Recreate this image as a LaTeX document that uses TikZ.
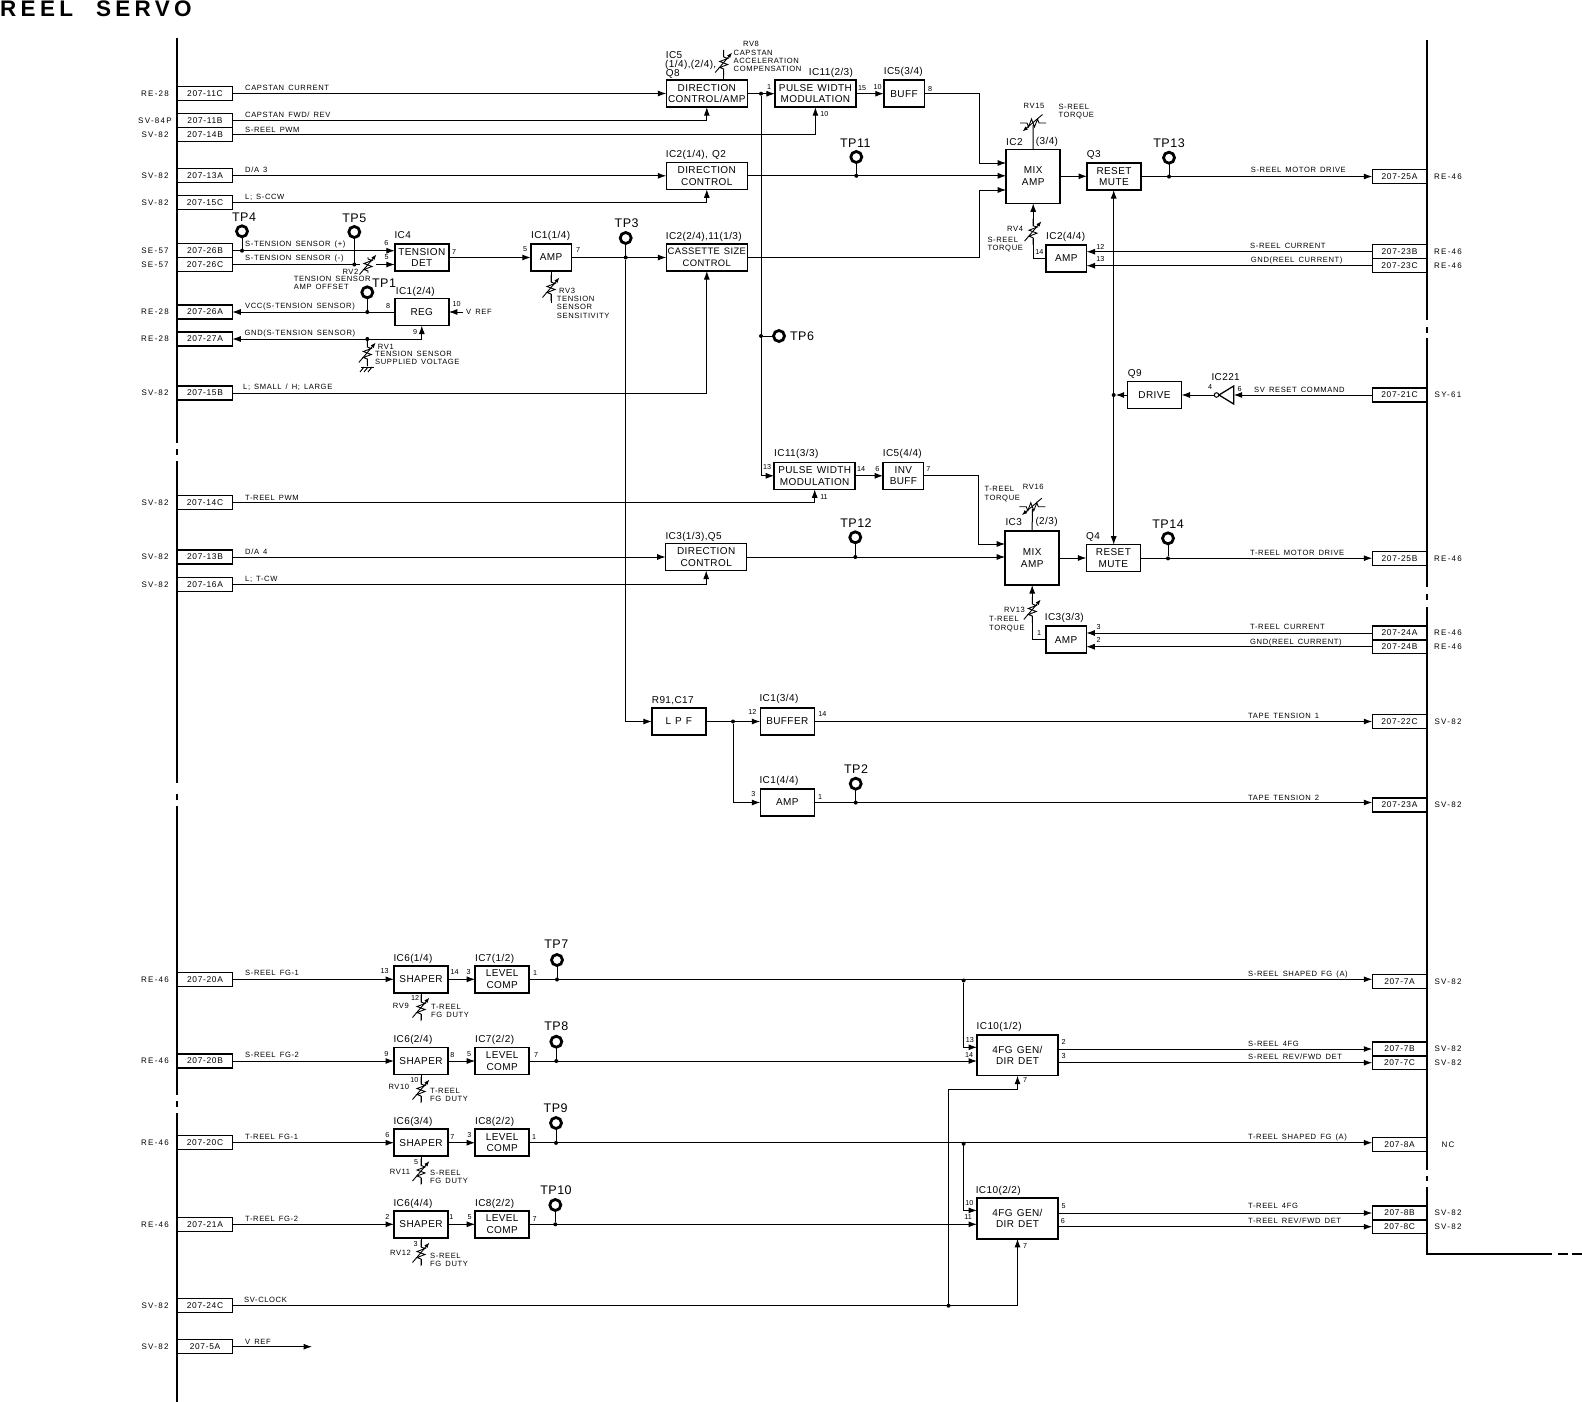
\documentclass[tikz,border=0pt]{standalone}
\usepackage{fontspec}
\usepackage{tikz}
\usetikzlibrary{arrows.meta,calc}
\setmainfont{Liberation Sans}
\newfontfamily\sigface{Liberation Sans}[LetterSpace=8,WordSpace=1.5]
\newfontfamily\srcface{Liberation Sans}[LetterSpace=16]
\newfontfamily\blkface{Liberation Sans}[LetterSpace=4,WordSpace=1.3]
\newfontfamily\ttlface{Liberation Sans}[LetterSpace=19,WordSpace=2.2]
\newcommand{\sigsz}{\sigface\fontsize{7.6}{8.4}\selectfont}
\newcommand{\blksz}{\blkface\fontsize{10}{11.6}\selectfont}
\newcommand{\icsz}{\blkface\fontsize{10}{11}\selectfont}
\tikzset{
  wire/.style={line width=1pt},
  sig/.style={line width=1pt,-{Latex[length=8.5pt,width=6pt]}},
  sigboth/.style={line width=1pt,{Latex[length=8.5pt,width=6pt]}-{Latex[length=8.5pt,width=6pt]}},
  bus/.style={line width=2.2pt},
  blk/.style={draw,line width=1.5pt,inner sep=0pt,outer sep=0pt,align=center,font=\blksz,minimum width=54pt,minimum height=27pt},
  blkw/.style={blk,minimum width=81pt},
  blks/.style={blk,minimum width=40.5pt},
  blkm/.style={blk,minimum height=54pt},
  conn/.style={draw,line width=1.3pt,inner sep=0pt,outer sep=0pt,font=\sigface\fontsize{8.4}{9}\selectfont,minimum width=54.5pt,minimum height=14pt},
  srcl/.style={inner sep=0pt,font=\srcface\fontsize{8}{9}\selectfont},
  sigl/.style={inner sep=0pt,anchor=west,font=\sigsz},
  rvl/.style={inner sep=0pt,anchor=west,align=left,font=\sigsz},
  icl/.style={inner sep=0pt,anchor=west,font=\icsz},
  pinl/.style={inner sep=0pt,font=\fontsize{7.2}{8}\selectfont},
  tp/.style={circle,draw,fill=white,line width=2.8pt,minimum size=11pt,inner sep=0pt,outer sep=0pt},
  tpl/.style={inner sep=0pt,font=\blkface\fontsize{12.5}{13}\selectfont},
  jdot/.style={circle,fill=black,minimum size=4pt,inner sep=0pt,outer sep=0pt},
  pics/rheo/.default=13,
  pics/rheo/.style={code={
    \fill[white] (-2.5,-6) rectangle (2.5,6);
    \draw[line width=.9pt] (0,-#1)--(0,-6)--(4,-4.5)--(-4,-1.5)--(4,1.5)--(-4,4.5)--(0,6)--(0,#1);
    \draw[line width=.9pt,-{Latex[length=5.5pt,width=4pt]}] (-8.5,9.5)--(8.5,-10.5);
  }}
}
\newcommand{\lconn}[4]{%
  \node[conn] (#1) at (205,#2) {#3};
  \node[srcl] (#1s) at (155,#2) {#4};}
\newcommand{\rconn}[4]{%
  \node[conn] (#1) at (1399.5,#2) {#3};
  \node[srcl] (#1s) at (1448,#2) {#4};}

\begin{document}
\begin{tikzpicture}[x=1pt,y=-1pt]
\useasboundingbox (0,0) rectangle (1582,1402);
\node[inner sep=0pt,anchor=west,font=\ttlface\bfseries\fontsize{22.5}{22.5}\selectfont] (title) at (0,8.5) {REEL SERVO};
% the two vertical connector rails
\foreach \a/\b in {38/443,449/455,461/783,794/800,806/1095,1101/1107,1113/1402}
  \draw[bus] (177,\a) -- (177,\b);
\foreach \a/\b in {40/320,327/333,338/587,594/600,607/1170,1176/1181,1187/1254}
  \draw[bus] (1427,\a) -- (1427,\b);
\draw[bus] (1426,1254) -- (1552,1254);
\draw[bus] (1558,1254) -- (1568,1254);
\draw[bus] (1572,1254) -- (1582,1254);

% left connectors
\lconn{lc11c}{93.5}{207-11C}{RE-28}
\lconn{lc11b}{120.7}{207-11B}{SV-84P}
\lconn{lc14b}{134.7}{207-14B}{SV-82}
\lconn{lc13a}{175.8}{207-13A}{SV-82}
\lconn{lc15c}{202.7}{207-15C}{SV-82}
\lconn{lc26b}{250.7}{207-26B}{SE-57}
\lconn{lc26c}{264.5}{207-26C}{SE-57}
\lconn{lc26a}{312}{207-26A}{RE-28}
\lconn{lc27a}{339}{207-27A}{RE-28}
\lconn{lc15b}{393}{207-15B}{SV-82}
\lconn{lc14c}{502.5}{207-14C}{SV-82}
\lconn{lc13b}{557}{207-13B}{SV-82}
\lconn{lc16a}{584.3}{207-16A}{SV-82}
\lconn{lc20a}{979.3}{207-20A}{RE-46}
\lconn{lc20b}{1061}{207-20B}{RE-46}
\lconn{lc20c}{1142.7}{207-20C}{RE-46}
\lconn{lc21a}{1224.3}{207-21A}{RE-46}
\lconn{lc24c}{1305.7}{207-24C}{SV-82}
\lconn{lc5a}{1346.7}{207-5A}{SV-82}

% right connectors
\rconn{rc25a}{176.7}{207-25A}{RE-46}
\rconn{rc23b}{251.7}{207-23B}{RE-46}
\rconn{rc23c}{265.7}{207-23C}{RE-46}
\rconn{rc21c}{395}{207-21C}{SY-61}
\rconn{rc25b}{558.5}{207-25B}{RE-46}
\rconn{rc24a}{633}{207-24A}{RE-46}
\rconn{rc24b}{646.7}{207-24B}{RE-46}
\rconn{rc22c}{721.5}{207-22C}{SV-82}
\rconn{rc23a}{805}{207-23A}{SV-82}
\rconn{rc7a}{981.7}{207-7A}{SV-82}
\rconn{rc7b}{1049}{207-7B}{SV-82}
\rconn{rc7c}{1062.7}{207-7C}{SV-82}
\rconn{rc8a}{1144.7}{207-8A}{NC}
\rconn{rc8b}{1213}{207-8B}{SV-82}
\rconn{rc8c}{1226.7}{207-8C}{SV-82}

% blocks, upper half
\node[blkw] (dirca) at (706.8,93.7) {DIRECTION\\CONTROL/AMP};
\node[blkw] (pwma) at (815.4,93.7) {PULSE WIDTH\\MODULATION};
\node[blks] (buffa) at (904,93.7) {BUFF};
\node[blkw] (dircb) at (706.8,175.8) {DIRECTION\\CONTROL};
\node[blkw,font=\blkface\fontsize{9.4}{11.6}\selectfont] (cass) at (706.8,257.5) {CASSETTE SIZE\\CONTROL};
\node[blkm] (mixa) at (1033.2,176.3) {MIX\\AMP};
\node[blk] (rsta) at (1114,176.5) {RESET\\MUTE};
\node[blks] (ampc) at (1066.3,258.3) {AMP};
\node[blk] (drive) at (1154.5,395) {DRIVE};
\node[blk] (tdet) at (421.8,257.5) {TENSION\\DET};
\node[blks] (ampa) at (551,257.5) {AMP};
\node[blk] (reg) at (421.8,312) {REG};
\node[blkw] (pwmb) at (814.7,475.8) {PULSE WIDTH\\MODULATION};
\node[blks] (buffb) at (903.4,475.8) {INV\\BUFF};
\node[blkw] (dircc) at (706.2,557) {DIRECTION\\CONTROL};
\node[blkm] (mixb) at (1032.2,558) {MIX\\AMP};
\node[blk] (rstb) at (1113.4,558.2) {RESET\\MUTE};
\node[blks] (ampd) at (1066,639.7) {AMP};
\node[blk] (lpf) at (678.8,721.5) {L P F};
\node[blk] (bufr) at (787.3,721.5) {BUFFER};
\node[blk] (ampb) at (787.3,802.5) {AMP};

% blocks, lower half
\node[blk] (shpa) at (421,979.3) {SHAPER};
\node[blk] (lvla) at (502.2,979.3) {LEVEL\\COMP};
\node[blk] (shpb) at (421,1061) {SHAPER};
\node[blk] (lvlb) at (502.2,1061) {LEVEL\\COMP};
\node[blk] (shpc) at (421,1142.7) {SHAPER};
\node[blk] (lvlc) at (502.2,1142.7) {LEVEL\\COMP};
\node[blk] (shpd) at (421,1224.3) {SHAPER};
\node[blk] (lvld) at (502.2,1224.3) {LEVEL\\COMP};
\node[blkw,minimum height=40.7pt] (fga) at (1017.5,1055.3) {4FG GEN/\\DIR DET};
\node[blkw,minimum height=40.7pt] (fgb) at (1017.5,1218.5) {4FG GEN/\\DIR DET};

% inverter
\node[circle,draw,line width=1pt,minimum size=4.5pt,inner sep=0pt,outer sep=0pt] (invb) at (1216.5,395) {};
\coordinate (invr) at (1233.7,395);
\draw[line width=1.3pt] (1219,395) -- (1233.7,386) -- (1233.7,404) -- cycle;

% test points and their dots
\node[jdot] (dtp4) at (242,250.7) {};
\node[jdot] (dtp5) at (354.3,264.5) {};
\node[jdot] (dtp1) at (367.3,312) {};
\node[jdot] (dgnd) at (367.3,339) {};
\node[jdot] (dtp3) at (625.7,257.5) {};
\node[jdot] (dtp11) at (856.3,175.8) {};
\node[jdot] (dtp13) at (1169,176.6) {};
\node[jdot] (dtp12) at (855.3,557) {};
\node[jdot] (dtp14) at (1168,558.4) {};
\node[jdot] (dtp2) at (855.7,802.6) {};
\node[jdot] (dtp7) at (557,979.5) {};
\node[jdot] (dtp8) at (556.3,1061) {};
\node[jdot] (dtp9) at (556,1142.9) {};
\node[jdot] (dtp10) at (555.3,1224.3) {};
\node[jdot] (dvt) at (761,93.7) {};
\node[jdot] (dtp6) at (761,336) {};
\node[jdot] (dres) at (1113.7,395) {};
\node[jdot] (dlpf) at (733,721.5) {};
\node[jdot] (dfga) at (963.6,980.5) {};
\node[jdot] (dfgb) at (963.6,1143.8) {};
\node[jdot] (dclk) at (948.5,1305.7) {};
\node[tp] (tp4) at (242,231.3) {};
\node[tp] (tp5) at (354.3,232) {};
\node[tp] (tp1) at (367.3,292.3) {};
\node[tp] (tp3) at (625.7,238) {};
\node[tp] (tp6) at (779,336) {};
\node[tp] (tp11) at (856.3,157) {};
\node[tp] (tp13) at (1169,157.7) {};
\node[tp] (tp12) at (855.3,537.3) {};
\node[tp] (tp14) at (1168,538.3) {};
\node[tp] (tp2) at (855.7,783.7) {};
\node[tp] (tp7) at (557,960) {};
\node[tp] (tp8) at (556.3,1041.7) {};
\node[tp] (tp9) at (556,1123) {};
\node[tp] (tp10) at (555.3,1205) {};
\node[tpl] (tp4t) at (244,217.3) {TP4};
\node[tpl] (tp5t) at (354.3,218.3) {TP5};
\node[tpl] (tp1t) at (384,283.3) {TP1};
\node[tpl] (tp3t) at (626.7,223.3) {TP3};
\node[tpl] (tp6t) at (802,336) {TP6};
\node[tpl] (tp11t) at (855.3,142.7) {TP11};
\node[tpl] (tp13t) at (1169,142.7) {TP13};
\node[tpl] (tp12t) at (856,523.3) {TP12};
\node[tpl] (tp14t) at (1168,524.3) {TP14};
\node[tpl] (tp2t) at (856,769) {TP2};
\node[tpl] (tp7t) at (556.3,944.3) {TP7};
\node[tpl] (tp8t) at (556.3,1025.7) {TP8};
\node[tpl] (tp9t) at (555.7,1107.7) {TP9};
\node[tpl] (tp10t) at (556,1189.7) {TP10};

% free ends and bends
\coordinate (ina) at (mixa.west |- 0,163);
\coordinate (inb) at (mixa.west |- 0,190);
\coordinate (kna) at (979.3,163);
\coordinate (knb) at (979.3,190);
\coordinate (inc) at (mixb.west |- 0,544);
\coordinate (knc) at (978,544);
\coordinate (clkk) at (1017.5,1089);
\coordinate (fgin) at (948.5,1089);
\coordinate (inda) at (fga.west |- 0,1047.3);
\coordinate (indb) at (fgb.west |- 0,1210.4);
\coordinate (vrefe) at (312,1346.7);
\coordinate (vrefr) at (463,312);
\coordinate (rv8e) at (723.7,50);
\coordinate (rv3e) at (551,303);
\coordinate (rv15e) at (1033,123);
\coordinate (rv16e) at (1032.3,506.7);
\coordinate (rv1e) at (367.3,366);
\coordinate (rv9e) at (421,1020);
\coordinate (rv10e) at (421,1102);
\coordinate (rv11e) at (421,1183.5);
\coordinate (rv12e) at (421,1265);

% connectors into the upper blocks
\draw[sig] (lc11c.east) -- (lc11c.east -| dirca.west);
\draw[sig] (lc11b.east) -| (dirca.south);
\draw[sig] (lc14b.east) -| (pwma.south);
\draw[sig] (lc13a.east) -- (lc13a.east -| dircb.west);
\draw[sig] (lc15c.east) -| (dircb.south);
\draw[sig] (dirca.east) -- (pwma.west);
\draw[sig] (pwma.east) -- (buffa.west);
\draw[sig] (buffa.east) -| (kna) -- (ina);
\draw[sig] (dircb.east) -- (dircb.east -| mixa.west);
\draw[wire] (cass.east) -| (knb);
\draw[sig] (knb) -- (inb);
\draw[sig] (mixa.east) -- (mixa.east -| rsta.west);
\draw[sig] (rsta.east) -- (rsta.east -| rc25a.west);
\draw[sig] (lc26b.east) -- (lc26b.east -| tdet.west);
\draw[sig] (lc26c.east) -- (lc26c.east -| tdet.west);
\draw[sig] (tdet.east) -- (ampa.west);
\draw[sig] (ampa.east) -- (cass.west);
\draw[sig] (reg.west) -- (lc26a.east);
\draw[sigboth] (lc27a.east) -| (reg.south);
\draw[sig] (vrefr) -- (reg.east);
\draw[sig] (lc15b.east) -| (cass.south);
\draw[sig] (rc23b.west) -- (rc23b.west -| ampc.east);
\draw[sig] (rc23c.west) -- (rc23c.west -| ampc.east);
\draw[sig] (ampc.west) -| (mixa.south);
\draw[sig] (rc21c.west) -- (invr);
\draw[sig] (invb.west) -- (drive.east);
\draw[sig] (drive.west) -- (dres);
\draw[sig] (dres) -- (dres |- rsta.south);
\draw[sig] (dres) -- (dres |- rstb.north);
\draw[wire] (mixa.north) -- (rv15e);
\draw[wire] (dirca.north -| rv8e) -- (rv8e);
\draw[wire] (ampa.south) -- (rv3e);
\draw[wire] (dgnd) -- (rv1e);
\draw[wire] (tp4) -- (dtp4);
\draw[wire] (tp5) -- (dtp5);
\draw[wire] (tp1) -- (dtp1);
\draw[wire] (tp3) -- (dtp3);
\draw[wire] (tp11) -- (dtp11);
\draw[wire] (tp13) -- (dtp13);
\draw[wire] (tp6) -- (dtp6);

% connectors around the lower part of the upper half
\draw[wire] (dvt) -- (dtp6);
\draw[sig] (dtp6) |- (pwmb.west);
\draw[sig] (lc14c.east) -| (pwmb.south);
\draw[sig] (pwmb.east) -- (buffb.west);
\draw[sig] (buffb.east) -| (knc) -- (inc);
\draw[sig] (lc13b.east) -- (lc13b.east -| dircc.west);
\draw[sig] (lc16a.east) -| (dircc.south);
\draw[sig] (dircc.east) -- (dircc.east -| mixb.west);
\draw[sig] (mixb.east) -- (mixb.east -| rstb.west);
\draw[sig] (rstb.east) -- (rstb.east -| rc25b.west);
\draw[sig] (rc24a.west) -- (rc24a.west -| ampd.east);
\draw[sig] (rc24b.west) -- (rc24b.west -| ampd.east);
\draw[sig] (ampd.west) -| (mixb.south);
\draw[wire] (mixb.north) -- (rv16e);
\draw[sig] (dtp3) |- (lpf.west);
\draw[sig] (lpf.east) -- (bufr.west);
\draw[sig] (bufr.east) -- (bufr.east -| rc22c.west);
\draw[sig] (dlpf) |- (ampb.west);
\draw[sig] (ampb.east) -- (ampb.east -| rc23a.west);
\draw[wire] (tp12) -- (dtp12);
\draw[wire] (tp14) -- (dtp14);
\draw[wire] (tp2) -- (dtp2);

% connectors of the lower half
\draw[sig] (lc20a.east) -- (shpa.west);
\draw[sig] (shpa.east) -- (lvla.west);
\draw[sig] (lvla.east) -- (lvla.east -| rc7a.west);
\draw[sig] (lc20b.east) -- (shpb.west);
\draw[sig] (shpb.east) -- (lvlb.west);
\draw[sig] (lvlb.east) -- (lvlb.east -| fga.west);
\draw[sig] (lc20c.east) -- (shpc.west);
\draw[sig] (shpc.east) -- (lvlc.west);
\draw[sig] (lvlc.east) -- (lvlc.east -| rc8a.west);
\draw[sig] (lc21a.east) -- (shpd.west);
\draw[sig] (shpd.east) -- (lvld.west);
\draw[sig] (lvld.east) -- (lvld.east -| fgb.west);
\draw[sig] (dfga) |- (inda);
\draw[sig] (dfgb) |- (indb);
\draw[sig] (fga.east |- rc7b.west) -- (rc7b.west);
\draw[sig] (fga.east |- rc7c.west) -- (rc7c.west);
\draw[sig] (fgb.east |- rc8b.west) -- (rc8b.west);
\draw[sig] (fgb.east |- rc8c.west) -- (rc8c.west);
\draw[sig] (lc24c.east) -| (fgb.south);
\draw[wire] (dclk) -- (fgin);
\draw[sig] (fgin) -| (clkk) -- (fga.south);
\draw[sig] (lc5a.east) -- (vrefe);
\draw[wire] (shpa.south) -- (rv9e);
\draw[wire] (shpb.south) -- (rv10e);
\draw[wire] (shpc.south) -- (rv11e);
\draw[wire] (shpd.south) -- (rv12e);
\draw[wire] (tp7) -- (dtp7);
\draw[wire] (tp8) -- (dtp8);
\draw[wire] (tp9) -- (dtp9);
\draw[wire] (tp10) -- (dtp10);

% variable resistors
\pic at (723.7,63) {rheo};
\pic at (551,288) {rheo};
\pic at (367.3,353) {rheo};
\pic at (1033,231.7) {rheo};
\pic at (1032.3,610) {rheo};
\pic at (421,1008) {rheo};
\pic at (421,1090) {rheo};
\pic at (421,1171.5) {rheo};
\pic at (421,1253) {rheo};
\fill[white] (360,264.5) ++(0,-1) rectangle (376,265.5);
\pic at (368,265) {rheo=8};
\pic[rotate=90,xscale=-1] at (1033,123) {rheo};
\pic[rotate=90,xscale=-1] at (1032.3,506.7) {rheo};
\draw[line width=1pt] (361,367) -- (374,367);
\foreach \g in {362,366,370}
  \draw[line width=.9pt] (\g+2,367) -- (\g-2,372);

% signal names, left side
\node[sigl] (n1) at (245,88) {CAPSTAN CURRENT};
\node[sigl] (n2) at (245,115) {CAPSTAN FWD/ REV};
\node[sigl] (n3) at (245,129.5) {S-REEL PWM};
\node[sigl] (n4) at (245,170) {D/A 3};
\node[sigl] (n5) at (245,197) {L; S-CCW};
\node[sigl] (n6) at (245,244.7) {S-TENSION SENSOR (+)};
\node[sigl] (n7) at (245,259) {S-TENSION SENSOR (-)};
\node[sigl] (n8) at (245,306.3) {VCC(S-TENSION SENSOR)};
\node[sigl] (n9) at (244.5,334) {GND(S-TENSION SENSOR)};
\node[sigl] (n10) at (243,387) {L; SMALL / H; LARGE};
\node[sigl] (n11) at (245,497.5) {T-REEL PWM};
\node[sigl] (n12) at (245,552) {D/A 4};
\node[sigl] (n13) at (245,579) {L; T-CW};
\node[sigl] (n14) at (245,973) {S-REEL FG-1};
\node[sigl] (n15) at (245,1055) {S-REEL FG-2};
\node[sigl] (n16) at (245,1137) {T-REEL FG-1};
\node[sigl] (n17) at (245,1219) {T-REEL FG-2};
\node[sigl] (n18) at (244,1300) {SV-CLOCK};
\node[sigl] (n19) at (245,1341.5) {V REF};
\node[sigl] (n20) at (466,311.7) {V REF};

% signal names, right side
\node[sigl] (n21) at (1250.7,170) {S-REEL MOTOR DRIVE};
\node[sigl] (n22) at (1250,246) {S-REEL CURRENT};
\node[sigl] (n23) at (1250.7,261) {GND(REEL CURRENT)};
\node[sigl] (n24) at (1254,389.5) {SV RESET COMMAND};
\node[sigl] (n25) at (1250,553) {T-REEL MOTOR DRIVE};
\node[sigl] (n26) at (1250,627) {T-REEL CURRENT};
\node[sigl] (n27) at (1250,643) {GND(REEL CURRENT)};
\node[sigl] (n28) at (1248,715.5) {TAPE TENSION 1};
\node[sigl] (n29) at (1248,797.7) {TAPE TENSION 2};
\node[sigl] (n30) at (1248,975) {S-REEL SHAPED FG (A)};
\node[sigl] (n31) at (1248,1044) {S-REEL 4FG};
\node[sigl] (n32) at (1248,1056.5) {S-REEL REV/FWD DET};
\node[sigl] (n33) at (1248,1138) {T-REEL SHAPED FG (A)};
\node[sigl] (n34) at (1248,1206) {T-REEL 4FG};
\node[sigl] (n35) at (1248,1220.7) {T-REEL REV/FWD DET};

% part names
\node[icl] (ic1) at (665.7,55) {IC5};
\node[icl] (ic2) at (665,64.7) {(1/4),(2/4),};
\node[icl] (ic3) at (665.7,74) {Q8};
\node[icl] (ic4) at (808.7,73.3) {IC11(2/3)};
\node[icl] (ic5) at (883.7,72.3) {IC5(3/4)};
\node[icl] (ic6) at (665.7,155.3) {IC2(1/4), Q2};
\node[icl] (ic7) at (665.7,236.7) {IC2(2/4),11(1/3)};
\node[icl] (ic8) at (1006,141.7) {IC2};
\node[icl] (ic9) at (1035.7,141.7) {(3/4)};
\node[icl] (ic10) at (1086.7,155.3) {Q3};
\node[icl] (ic11) at (1046,237.3) {IC2(4/4)};
\node[icl] (ic12) at (1127.7,374) {Q9};
\node[icl] (ic13) at (1211.3,376.7) {IC221};
\node[icl] (ic14) at (394.3,235) {IC4};
\node[icl] (ic15) at (531,236) {IC1(1/4)};
\node[icl] (ic16) at (395.7,291.7) {IC1(2/4)};
\node[icl] (ic17) at (774,454) {IC11(3/3)};
\node[icl] (ic18) at (882.7,454) {IC5(4/4)};
\node[icl] (ic19) at (665.3,536.7) {IC3(1/3),Q5};
\node[icl] (ic20) at (1086,536.7) {Q4};
\node[icl] (ic21) at (1005.3,522.3) {IC3};
\node[icl] (ic22) at (1035.3,522.3) {(2/3)};
\node[icl] (ic23) at (1044.7,618.3) {IC3(3/3)};
\node[icl] (ic24) at (651.7,701) {R91,C17};
\node[icl] (ic25) at (759.3,699.3) {IC1(3/4)};
\node[icl] (ic26) at (759.3,781) {IC1(4/4)};
\node[icl] (ic27) at (393.3,958.7) {IC6(1/4)};
\node[icl] (ic28) at (475,958.7) {IC7(1/2)};
\node[icl] (ic29) at (393.3,1040) {IC6(2/4)};
\node[icl] (ic30) at (475,1040) {IC7(2/2)};
\node[icl] (ic31) at (393.3,1121.7) {IC6(3/4)};
\node[icl] (ic32) at (475,1121.7) {IC8(2/2)};
\node[icl] (ic33) at (393.3,1203.7) {IC6(4/4)};
\node[icl] (ic34) at (475,1203.7) {IC8(2/2)};
\node[icl] (ic35) at (976.5,1027.3) {IC10(1/2)};
\node[icl] (ic36) at (975.6,1191) {IC10(2/2)};

% variable resistor names
\node[rvl,anchor=center] (r8) at (751,44) {RV8};
\node[rvl,anchor=north west] (r8t) at (733.5,49.5) {CAPSTAN\\ACCELERATION\\COMPENSATION};
\node[rvl,anchor=center] (r15) at (1034,105.7) {RV15};
\node[rvl,anchor=north west] (r15t) at (1058.3,103.5) {S-REEL\\TORQUE};
\node[rvl] (r4) at (1007,229.3) {RV4};
\node[rvl,anchor=north west] (r4t) at (987.3,236.5) {S-REEL\\TORQUE};
\node[rvl] (r2) at (342.3,271.7) {RV2};
\node[rvl,anchor=north west] (r2t) at (293.7,276) {TENSION SENSOR\\AMP OFFSET};
\node[rvl] (r3) at (559,291) {RV3};
\node[rvl,anchor=north west] (r3t) at (556.7,296) {TENSION\\SENSOR\\SENSITIVITY};
\node[rvl] (r1) at (377.7,346.7) {RV1};
\node[rvl,anchor=north west] (r1t) at (375,351) {TENSION SENSOR\\SUPPLIED VOLTAGE};
\node[rvl,anchor=north west] (r16t) at (984.3,486.5) {T-REEL\\TORQUE};
\node[rvl,anchor=center] (r16) at (1033.3,487.3) {RV16};
\node[rvl] (r13) at (1004,610) {RV13};
\node[rvl,anchor=north west] (r13t) at (989,616.5) {T-REEL\\TORQUE};
\node[rvl] (r9) at (392.7,1006) {RV9};
\node[rvl,anchor=north west] (r9t) at (431,1004) {T-REEL\\FG DUTY};
\node[rvl] (r10) at (388.3,1086.7) {RV10};
\node[rvl,anchor=north west] (r10t) at (430,1088) {T-REEL\\FG DUTY};
\node[rvl] (r11) at (389.7,1171.7) {RV11};
\node[rvl,anchor=north west] (r11t) at (430,1170) {S-REEL\\FG DUTY};
\node[rvl] (r12) at (390,1252.7) {RV12};
\node[rvl,anchor=north west] (r12t) at (430,1252.5) {S-REEL\\FG DUTY};

% pin numbers
\node[pinl] (pa1) at (386.3,242.7) {6};
\node[pinl] (pa2) at (386.7,257.3) {5};
\node[pinl] (pa3) at (454,252) {7};
\node[pinl] (pa4) at (525,249) {5};
\node[pinl] (pa5) at (578,249.7) {7};
\node[pinl] (pa6) at (388,306.3) {8};
\node[pinl] (pa7) at (456.7,304) {10};
\node[pinl] (pa8) at (415,331.7) {9};
\node[pinl] (pb1) at (769,87.3) {1};
\node[pinl] (pb2) at (862,88.3) {15};
\node[pinl] (pb3) at (877.7,87.3) {10};
\node[pinl] (pb4) at (930,88.7) {8};
\node[pinl] (pb5) at (824.3,114.3) {10};
\node[pinl] (pb6) at (1039.3,252) {14};
\node[pinl] (pb7) at (1100.3,246.7) {12};
\node[pinl] (pb8) at (1100.3,258.7) {13};
\node[pinl] (pb9) at (1210,387.3) {4};
\node[pinl] (pb10) at (1239.7,389.3) {6};
\node[pinl] (pc1) at (767,467.3) {13};
\node[pinl] (pc2) at (861,469.3) {14};
\node[pinl] (pc3) at (877.3,468.7) {6};
\node[pinl] (pc4) at (928.3,469.3) {7};
\node[pinl] (pc5) at (824,496.7) {11};
\node[pinl] (pc6) at (1039,633.3) {1};
\node[pinl] (pc7) at (1098.7,627.3) {3};
\node[pinl] (pc8) at (1098.7,640) {2};
\node[pinl] (pc9) at (752.3,712.3) {12};
\node[pinl] (pc10) at (822.3,714) {14};
\node[pinl] (pc11) at (753.3,794) {3};
\node[pinl] (pc12) at (820,796.7) {1};
\node[pinl] (pd1) at (384.7,970.7) {13};
\node[pinl] (pd2) at (454.7,972.3) {14};
\node[pinl] (pd3) at (468.7,971.7) {3};
\node[pinl] (pd4) at (535,973.3) {1};
\node[pinl] (pd5) at (415,998.3) {12};
\node[pinl] (pd6) at (386.3,1053.7) {9};
\node[pinl] (pd7) at (452.3,1055.3) {8};
\node[pinl] (pd8) at (469,1054.3) {5};
\node[pinl] (pd9) at (536,1054.7) {7};
\node[pinl] (pd10) at (414.3,1080) {10};
\node[pinl] (pd11) at (387.3,1135) {6};
\node[pinl] (pd12) at (452.3,1137) {7};
\node[pinl] (pd13) at (469.3,1135) {3};
\node[pinl] (pd14) at (534,1137) {1};
\node[pinl] (pd15) at (416,1162) {5};
\node[pinl] (pd16) at (387.3,1217) {2};
\node[pinl] (pd17) at (451.3,1217) {1};
\node[pinl] (pd18) at (469.7,1217) {5};
\node[pinl] (pd19) at (534.7,1219.3) {7};
\node[pinl] (pd20) at (415.7,1244) {3};
\node[pinl] (pe1) at (969.8,1040) {13};
\node[pinl] (pe2) at (969,1054.7) {14};
\node[pinl] (pe3) at (1063.6,1042) {2};
\node[pinl] (pe4) at (1063.6,1056) {3};
\node[pinl] (pe5) at (1025,1080) {7};
\node[pinl] (pe6) at (969.4,1203.3) {10};
\node[pinl] (pe7) at (968.2,1217.3) {11};
\node[pinl] (pe8) at (1063.6,1206) {5};
\node[pinl] (pe9) at (1062.8,1220.7) {6};
\node[pinl] (pe10) at (1025,1246) {7};
\end{tikzpicture}
\end{document}
